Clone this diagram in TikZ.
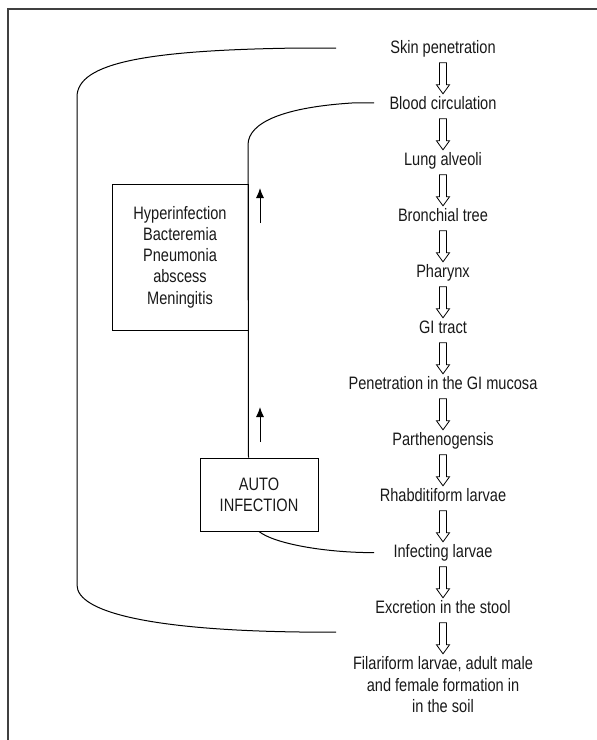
\documentclass[tikz,border=0pt]{standalone}
\usepackage{fontspec}
\setmainfont{Liberation Sans}[FakeStretch=0.81]
\usetikzlibrary{arrows.meta}

\tikzset{
	stage/.style={font=\fontsize{18}{21.3}\selectfont, text=black!90, anchor=base, align=center, inner sep=0pt},
	sickbox/.style={draw, line width=1pt, font=\fontsize{18}{21.3}\selectfont, text=black!90, align=center},
	hollowdown/.pic={
		\draw[line width=0.8pt] (-3.5,-15.5) -- (-3.5,6.5) -- (-6.5,6.5) -- (0,15.5)
			-- (6.5,6.5) -- (3.5,6.5) -- (3.5,-15.5) -- cycle;
	},
}

\begin{document}
\begin{tikzpicture}
	[x=1pt, y=-1pt, >={Latex[length=10pt,width=8pt]}, line width=1pt]

	\useasboundingbox (0,0) rectangle (597,740);

	% frame
	\draw[black!75, line width=1.5pt] (597,9) -- (8,9) -- (8,740);

	% life cycle column
	\begin{scope}
		\newcommand\ColX{443}
		\newcommand\FirstBase{53.3}
		\newcommand\Gap{56}

		\foreach \name/\txt [count=\i from 0] in {skin/Skin penetration, blood/Blood circulation, lung/Lung alveoli, bronchi/Bronchial tree, pharynx/Pharynx, gitract/GI tract, mucosa/Penetration in the GI mucosa, partheno/Parthenogensis, rhabdit/Rhabditiform larvae, infecting/Infecting larvae, excretion/Excretion in the stool} {
			\node[stage] (\name) at (\ColX, \FirstBase + \i*\Gap) {\txt};
		}
		\coordinate (filariBase) at (\ColX, \FirstBase + 11*\Gap);
		\node[stage, anchor=north] (filari) at (\ColX, \FirstBase + 11*\Gap - 13.1) {Filariform larvae, adult male\\and female formation in\\in the soil};

		% hollow arrows
		\foreach \a/\b in {skin/blood, blood/lung, lung/bronchi, bronchi/pharynx, pharynx/gitract, gitract/mucosa, mucosa/partheno, partheno/rhabdit, rhabdit/infecting, infecting/excretion, excretion/filariBase} {
			\path (\a.base) -- pic[pos=0.5, yshift=3pt] {hollowdown} (\b.base);
		}
	\end{scope}

	% boxes
	\node[sickbox, minimum width=136pt, minimum height=146pt] (hyper) at (180,257) {Hyperinfection\\Bacteremia\\Pneumonia\\abscess\\Meningitis};
	\node[sickbox, minimum width=118pt, minimum height=73pt] (auto) at (259,494.5) {AUTO\\INFECTION};

	% outer loop
	\coordinate (outerTop) at (336,48);
	\coordinate (outerBot) at (336,632);
	\draw (outerTop) -- (300,48) .. controls (150,50) and (77,62) .. (77,97)
		-- (77,585) .. controls (77,612) and (150,630) .. (300,632) -- (outerBot);

	% inner loop
	\coordinate (innerTop) at ([xshift=-15pt]blood.west);
	\coordinate (innerBot) at ([xshift=-19pt]infecting.west);
	\draw (innerTop) -- ++(-20,0) .. controls (285,107) and (248,122) .. (248,145)
		-- (auto.north -| hyper.east);
	\draw (auto.south) .. controls +(15,12) and +(-50,0) .. (innerBot);

	% up arrows
	\draw[->] (260,223) -- ++(0,-35);
	\draw[->] (260,442) -- ++(0,-35);

\end{tikzpicture}
\end{document}
